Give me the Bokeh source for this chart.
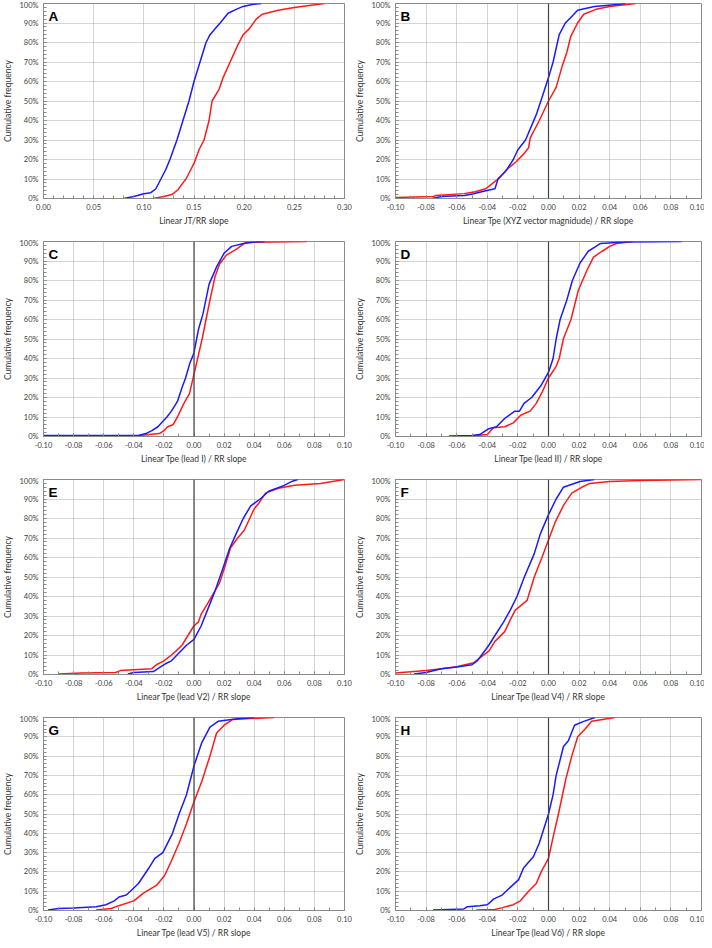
from bokeh.plotting import figure
from bokeh.layouts import column, row
from bokeh.models import Range1d, FixedTicker, PrintfTickFormatter, Span, Label
from bokeh.embed import file_html
from bokeh.resources import INLINE

# ---------------- data ----------------
panel_letters = ["A", "B", "C", "D", "E", "F", "G", "H"]
x_labels = [
    "Linear JT/RR slope",
    "Linear Tpe (XYZ vector magnidude) / RR slope",
    "Linear Tpe (lead I) / RR slope",
    "Linear Tpe (lead II) / RR slope",
    "Linear Tpe (lead V2) / RR slope",
    "Linear Tpe (lead V4) / RR slope",
    "Linear Tpe (lead V5) / RR slope",
    "Linear Tpe (lead V6) / RR slope",
]
y_ticks = [0, 10, 20, 30, 40, 50, 60, 70, 80, 90, 100]
y_minor = list(range(0, 101, 2))
a_x_ticks = [0.00, 0.05, 0.10, 0.15, 0.20, 0.25, 0.30]
a_x_minor = [round(i * 0.01, 2) for i in range(0, 31)]
tpe_x_ticks = [-0.10, -0.08, -0.06, -0.04, -0.02, 0.00, 0.02, 0.04, 0.06, 0.08, 0.10]
tpe_x_minor = [round(-0.10 + i * 0.01, 2) for i in range(0, 21)]

a_blue_x = [0.080, 0.090, 0.100, 0.107, 0.112, 0.117, 0.122, 0.126, 0.133, 0.139, 0.145, 0.150, 0.156, 0.162, 0.166, 0.171, 0.176, 0.184, 0.192, 0.199, 0.208, 0.217]
a_blue_y = [0, 1, 2.4, 3, 5, 10, 15, 20, 30, 40, 50, 60, 70, 80, 84, 87, 90, 95, 97, 98.5, 99.5, 100]
a_red_x = [0.109, 0.120, 0.128, 0.134, 0.139, 0.142, 0.147, 0.150, 0.155, 0.160, 0.165, 0.168, 0.175, 0.179, 0.186, 0.193, 0.199, 0.205, 0.212, 0.218, 0.234, 0.250, 0.265, 0.280]
a_red_y = [0, 1, 2, 4.5, 8, 10, 15, 18, 25, 30, 40, 50, 56, 62, 70, 78, 84, 87, 92, 94.5, 96.5, 98, 99, 100]

b_blue_x = [-0.076, -0.070, -0.055, -0.049, -0.041, -0.035, -0.033, -0.028, -0.023, -0.020, -0.015, -0.008, -0.005, 0.000, 0.003, 0.007, 0.011, 0.016, 0.019, 0.030, 0.045, 0.050]
b_blue_y = [0, 1, 1.5, 2.4, 4, 5, 10, 14, 20, 25, 30, 43, 50, 62, 70, 84, 90, 94, 96.5, 98.5, 99.5, 100]
b_red_x = [-0.100, -0.075, -0.074, -0.055, -0.048, -0.041, -0.037, -0.033, -0.027, -0.021, -0.016, -0.013, -0.012, -0.006, 0.000, 0.005, 0.009, 0.012, 0.0145, 0.019, 0.023, 0.031, 0.040, 0.057]
b_red_y = [0.5, 1, 1.5, 2.5, 3.5, 5, 7.5, 10, 15, 19, 23, 26, 31, 40, 50, 57, 68, 75, 83, 90, 94.5, 97, 98.5, 100]

c_blue_x = [-0.100, -0.037, -0.032, -0.028, -0.024, -0.018, -0.015, -0.011, -0.008, -0.0056, -0.003, 0.000, 0.003, 0.006, 0.010, 0.015, 0.020, 0.025, 0.033, 0.040, 0.047]
c_blue_y = [0.5, 0.5, 1.5, 3, 5, 10, 13, 18, 25, 30, 37, 43, 55, 63, 78, 87, 94, 97.5, 99, 99.8, 100]
c_red_x = [-0.050, -0.036, -0.023, -0.020, -0.0175, -0.014, -0.011, -0.0067, -0.003, 0.000, 0.003, 0.0054, 0.0106, 0.014, 0.017, 0.0215, 0.028, 0.0345, 0.075]
c_red_y = [0.3, 0.5, 1.5, 3, 5, 6, 10, 17, 22, 32, 42, 50, 70, 82, 88.5, 93, 96, 99.5, 100]

d_blue_x = [-0.065, -0.050, -0.045, -0.043, -0.039, -0.034, -0.029, -0.022, -0.019, -0.016, -0.011, -0.005, 0.000, 0.003, 0.005, 0.0076, 0.012, 0.0156, 0.0206, 0.026, 0.030, 0.034, 0.050, 0.087]
d_blue_y = [0.3, 0.5, 1, 2, 4, 5, 9, 13, 13, 17, 20, 26, 33, 40, 50, 60, 70, 80, 89, 95, 97, 99, 99.7, 100]
d_red_x = [-0.050, -0.040, -0.036, -0.0286, -0.023, -0.018, -0.012, -0.008, -0.004, 0.000, 0.005, 0.007, 0.0097, 0.0147, 0.0195, 0.025, 0.0294, 0.035, 0.040, 0.0445, 0.055]
d_red_y = [0.3, 1, 4.5, 5, 7, 11, 13, 17, 23, 30, 36, 40, 50, 60, 75, 85, 92, 95, 97.5, 99, 100]

e_blue_x = [-0.044, -0.040, -0.027, -0.022, -0.019, -0.015, -0.010, -0.005, 0.000, 0.0048, 0.0084, 0.0138, 0.019, 0.0236, 0.0279, 0.0327, 0.0377, 0.044, 0.0496, 0.055, 0.060, 0.065, 0.069]
e_blue_y = [0.3, 1, 1.5, 4, 5.5, 7, 11, 15, 18, 25, 32, 42.5, 54, 64.5, 72, 80, 86.5, 90, 94, 95.5, 97, 99, 100]
e_red_x = [-0.090, -0.075, -0.052, -0.049, -0.028, -0.025, -0.020, -0.015, -0.012, -0.008, -0.004, 0.000, 0.003, 0.0048, 0.0095, 0.017, 0.0204, 0.0243, 0.029, 0.0334, 0.037, 0.040, 0.0432, 0.0475, 0.056, 0.067, 0.084, 0.100]
e_red_y = [0.3, 0.8, 1, 2, 3, 5, 7, 10, 12, 15, 20, 25, 27, 31, 37, 47, 55, 65, 70, 74, 80, 85, 88, 93, 95.5, 97, 98, 100]

f_blue_x = [-0.088, -0.080, -0.070, -0.060, -0.050, -0.0466, -0.0437, -0.039, -0.035, -0.0293, -0.025, -0.0206, -0.0158, -0.0093, -0.0054, 0.000, 0.005, 0.0097, 0.0206, 0.030]
f_blue_y = [0.2, 1, 3, 3.8, 5, 7, 10, 15, 20, 27, 33, 40, 50, 62, 72, 82, 90, 96, 99, 100]
f_red_x = [-0.100, -0.080, -0.070, -0.060, -0.049, -0.044, -0.039, -0.035, -0.0286, -0.025, -0.0217, -0.014, -0.0093, -0.0043, 0.000, 0.0043, 0.010, 0.0152, 0.0217, 0.027, 0.040, 0.060, 0.100]
f_red_y = [0.8, 2, 3, 4, 6, 9, 12, 17, 22, 28, 33, 38, 50, 60, 69, 78, 87, 93, 96, 98, 99, 99.5, 100]

g_blue_x = [-0.097, -0.090, -0.080, -0.065, -0.0585, -0.053, -0.0498, -0.045, -0.0423, -0.0369, -0.030, -0.026, -0.0207, -0.0143, -0.0099, -0.005, 0.000, 0.0052, 0.0106, 0.016, 0.030, 0.040]
g_blue_y = [0.3, 1, 1.3, 2, 3, 5, 7, 8, 10, 14, 22, 27, 30, 40, 50, 60, 75, 87, 95, 98, 99.5, 100]
g_red_x = [-0.065, -0.055, -0.050, -0.040, -0.0336, -0.025, -0.0196, -0.0154, -0.0099, -0.005, -0.0006, 0.0052, 0.0106, 0.015, 0.020, 0.0258, 0.0533]
g_red_y = [0.2, 1, 2.5, 5, 9, 13, 18, 25, 35, 45, 55, 67, 80, 92, 96, 99, 100]

h_blue_x = [-0.0755, -0.0553, -0.053, -0.045, -0.040, -0.0357, -0.0303, -0.025, -0.0195, -0.0163, -0.0098, -0.006, 0.000, 0.003, 0.005, 0.0098, 0.013, 0.017, 0.023, 0.0304]
h_blue_y = [0.3, 0.8, 2, 2.5, 3, 6, 8, 12, 16, 22, 28, 35, 50, 60, 70, 85, 88, 96, 98, 100]
h_red_x = [-0.0472, -0.035, -0.030, -0.023, -0.0184, -0.013, -0.008, -0.0048, 0.000, 0.003, 0.0065, 0.0113, 0.0152, 0.0191, 0.0239, 0.0282, 0.0434]
h_red_y = [0.2, 0.5, 1.5, 3, 5, 10, 14, 20, 27, 38, 50, 68, 80, 90, 94, 98, 100]

series = [
    (a_blue_x, a_blue_y, a_red_x, a_red_y),
    (b_blue_x, b_blue_y, b_red_x, b_red_y),
    (c_blue_x, c_blue_y, c_red_x, c_red_y),
    (d_blue_x, d_blue_y, d_red_x, d_red_y),
    (e_blue_x, e_blue_y, e_red_x, e_red_y),
    (f_blue_x, f_blue_y, f_red_x, f_red_y),
    (g_blue_x, g_blue_y, g_red_x, g_red_y),
    (h_blue_x, h_blue_y, h_red_x, h_red_y),
]

FONT = "Lato"
GRID = "#a9a9a9"
AXIS = "#8a8a8a"
TXT = "#404040"

# per-row geometry: (height, min_border_top, min_border_bottom)
row_geom = [(238, 3, 40), (238, 3, 40), (238, 3, 40), (226, 3, 28)]
# per-column geometry: (width, min_border_left, min_border_right)
col_geom = [(352, 36, 8), (352, 42, 3)]


def make_panel(i):
    r, c = divmod(i, 2)
    h, bt, bb = row_geom[r]
    w, bl, br = col_geom[c]
    if i == 0:
        xr = Range1d(0.0, 0.30)
        xt = FixedTicker(ticks=a_x_ticks, minor_ticks=a_x_minor)
    else:
        xr = Range1d(-0.10, 0.10)
        xt = FixedTicker(ticks=tpe_x_ticks, minor_ticks=tpe_x_minor)
    p = figure(width=w, height=h, x_range=xr, y_range=Range1d(0, 100),
               output_backend="svg", toolbar_location=None, tools="",
               min_border_left=bl, min_border_right=br,
               min_border_top=bt, min_border_bottom=bb)
    p.background_fill_color = "white"
    p.border_fill_color = "white"
    p.outline_line_color = AXIS
    p.outline_line_width = 1

    p.xaxis.ticker = xt
    p.yaxis.ticker = FixedTicker(ticks=y_ticks, minor_ticks=y_minor)
    p.xaxis.formatter = PrintfTickFormatter(format="%.2f")
    p.yaxis.formatter = PrintfTickFormatter(format="%d%%")

    for ax in (p.xaxis, p.yaxis):
        ax.axis_line_color = AXIS
        ax.major_tick_line_color = AXIS
        ax.minor_tick_line_color = AXIS
        ax.major_tick_in = 3
        ax.major_tick_out = 0
        ax.minor_tick_in = 3
        ax.minor_tick_out = 0
        ax.major_label_text_font = FONT
        ax.major_label_text_font_size = "7.5px"
        ax.major_label_text_color = TXT
        ax.axis_label_text_font = FONT
        ax.axis_label_text_font_size = "8.5px"
        ax.axis_label_text_font_style = "normal"
        ax.axis_label_text_color = "#333333"
    p.xaxis.major_label_standoff = 5
    p.xaxis.axis_label_standoff = 3
    p.yaxis.major_label_standoff = 5
    p.yaxis.axis_label_standoff = 3
    p.xaxis.axis_label = x_labels[i]
    p.yaxis.axis_label = "Cumulative frequency"

    for g in (p.xgrid, p.ygrid):
        g.grid_line_color = GRID
        g.grid_line_dash = "1 1"
        g.grid_line_width = 1
    p.xgrid.ticker = xt

    if i > 0:
        p.add_layout(Span(location=0, dimension="height",
                          line_color="#444444", line_width=1.2))

    bx, by, rx, ry = series[i]
    p.line(rx, ry, line_color="#ff1a1a", line_width=1.5)
    p.line(bx, by, line_color="#1a1aff", line_width=1.5)

    p.add_layout(Label(x=xr.start, y=100, x_offset=5, y_offset=-5,
                       text=panel_letters[i], text_baseline="top",
                       text_font="Liberation Sans", text_font_style="bold",
                       text_font_size="13.5px", text_color="black"))
    return p


panels = [make_panel(i) for i in range(8)]
layout = column(*[row(panels[2 * r], panels[2 * r + 1]) for r in range(4)])

open("out.html", "w").write(file_html(layout, INLINE))
